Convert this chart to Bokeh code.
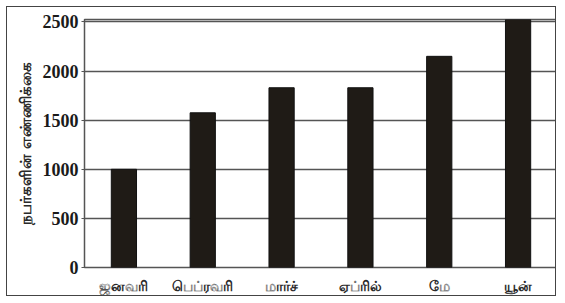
from bokeh.plotting import figure
from bokeh.models import Range1d, FactorRange
from bokeh.embed import file_html
from bokeh.resources import INLINE

months = ["ஜனவரி", "பெப்ரவரி", "மார்ச்", "ஏப்ரில்", "மே", "யூன்"]
persons = [1000, 1575, 1830, 1830, 2150, 2525]
y_ticks = [0, 500, 1000, 1500, 2000, 2500]
y_title = "நபர்களின் எண்ணிக்கை"

p = figure(x_range=FactorRange(*months), y_range=Range1d(0, 2525),
           width=550, height=290, output_backend="svg", toolbar_location=None,
           min_border_left=77, min_border_top=12, min_border_bottom=30, min_border_right=0)
p.styles = {"border": "1.5px solid #444", "margin-left": "6px", "margin-top": "6px"}
p.vbar(x=months, top=persons, width=0.32, fill_color="#1f1b16", line_color="#111111", line_width=1)

p.outline_line_color = "#555555"
p.outline_line_width = 1.5
p.xgrid.grid_line_color = None
p.ygrid.grid_line_color = "#555555"
p.ygrid.grid_line_width = 1.5
p.yaxis.ticker = y_ticks
p.yaxis.axis_line_color = None
p.yaxis.major_tick_line_color = "#555555"
p.yaxis.major_tick_out = 3
p.yaxis.major_tick_in = 0
p.yaxis.minor_tick_line_color = None
p.yaxis.major_label_text_font = "Liberation Serif"
p.yaxis.major_label_text_font_style = "bold"
p.yaxis.major_label_text_font_size = "18px"
p.yaxis.major_label_text_color = "#1a1a1a"
p.yaxis.major_label_standoff = 3
p.yaxis.axis_label = y_title
p.yaxis.axis_label_text_font_size = "15px"
p.yaxis.axis_label_text_font_style = "bold"
p.yaxis.axis_label_text_color = "#2a2a2a"
p.yaxis.axis_label_standoff = 6

p.xaxis.axis_line_color = None
p.xaxis.major_tick_line_color = None
p.xaxis.major_label_text_font_size = "14px"
p.xaxis.major_label_text_font_style = "bold"
p.xaxis.major_label_text_color = "#2a2a2a"
p.xaxis.major_label_standoff = 4

open("out.html", "w").write(file_html(p, INLINE))
